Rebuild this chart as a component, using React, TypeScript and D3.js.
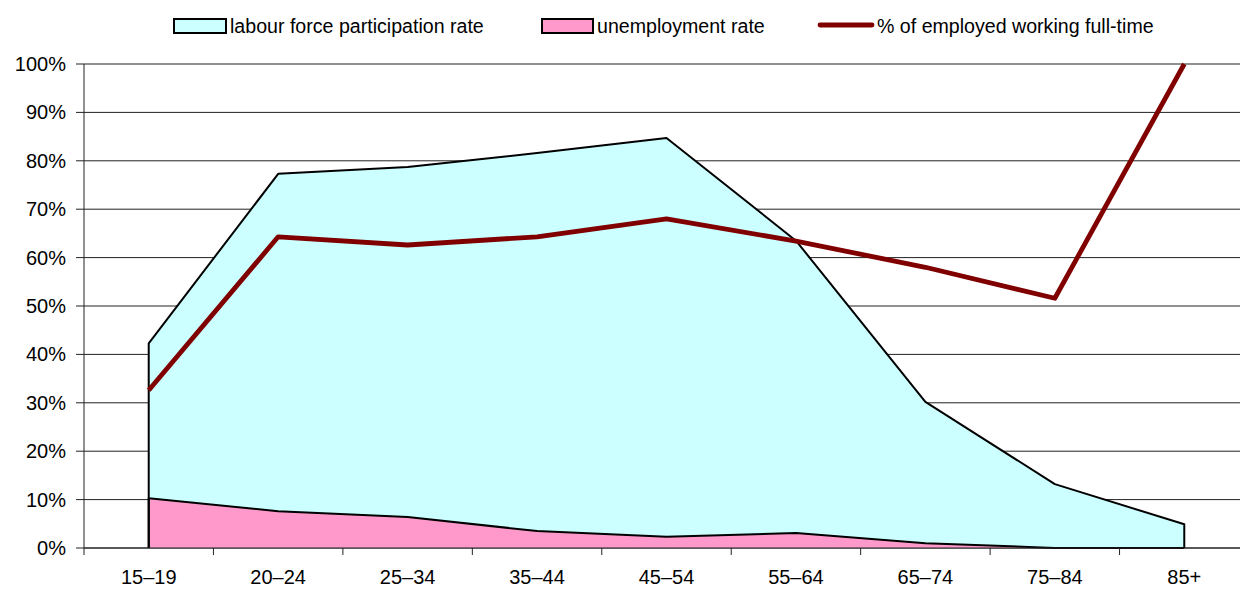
import React from "react";
import * as d3 from "d3";

const categories = ["15–19", "20–24", "25–34", "35–44", "45–54", "55–64", "65–74", "75–84", "85+"];
const participation = [42.3, 77.3, 78.7, 81.6, 84.7, 63.5, 30.2, 13.2, 4.9];
const unemployment = [10.3, 7.6, 6.4, 3.5, 2.3, 3.1, 1.0, 0, 0];
const fullTime = [32.6, 64.3, 62.6, 64.3, 68.0, 63.4, 58.0, 51.6, 100];
const yTicks = [0, 10, 20, 30, 40, 50, 60, 70, 80, 90, 100];

const W = 1240, H = 589;
const left = 84, right = 1249, top = 64, bottom = 548;
const font = "'Liberation Sans', Arial, Helvetica, sans-serif";

export default function App() {
  const x = d3.scaleBand<string>().domain(categories).range([left, right]).padding(0);
  const y = d3.scaleLinear().domain([0, 100]).range([bottom, top]);
  const cx = (c: string) => (x(c) as number) + x.bandwidth() / 2;

  const area = d3.area<number>().x((_, i) => cx(categories[i])).y0(y(0)).y1((d) => y(d));
  const line = d3.line<number>().x((_, i) => cx(categories[i])).y((d) => y(d));

  const partPath = area(participation) as string;
  const partOutline = `M${cx(categories[0])},${y(0)}L` + (line(participation) as string).slice(1) + `L${cx(categories[categories.length - 1])},${y(0)}`;
  const unPath = area(unemployment) as string;
  const unOutline = `M${cx(categories[0])},${y(0)}L` + (line(unemployment) as string).slice(1);

  return (
    <svg width={W} height={H} style={{ position: "absolute", left: 0, top: 0 }} fontFamily={font}>
      <rect width={W} height={H} fill="#fff" />
      {yTicks.map((t) => (
        <g key={t}>
          <line x1={left} x2={W} y1={y(t)} y2={y(t)} stroke="#222" strokeWidth={1} />
          <line x1={76} x2={left} y1={y(t)} y2={y(t)} stroke="#222" strokeWidth={1} />
          <text x={66} y={y(t) + 7} fontSize={20} textAnchor="end" fill="#000">{t}%</text>
        </g>
      ))}
      <path d={partPath} fill="#CCFFFF" />
      <path d={unPath} fill="#FF99CC" />
      <path d={partOutline} fill="none" stroke="#000" strokeWidth={2} strokeLinejoin="round" />
      <path d={unOutline} fill="none" stroke="#000" strokeWidth={2} strokeLinejoin="round" />
      <path d={line(fullTime) as string} fill="none" stroke="#800000" strokeWidth={4.8} strokeLinejoin="round" />
      <line x1={left} x2={left} y1={top} y2={bottom} stroke="#222" strokeWidth={1} />
      <line x1={left} x2={W} y1={bottom} y2={bottom} stroke="#222" strokeWidth={1.2} />
      {categories.map((c) => (
        <g key={c}>
          <line x1={(x(c) as number)} x2={(x(c) as number)} y1={bottom} y2={bottom + 7} stroke="#222" />
          <text x={cx(c)} y={584} fontSize={20} textAnchor="middle" fill="#000">{c}</text>
        </g>
      ))}
      <g fontSize={19.6} fill="#000">
        <rect x={174} y={19} width={52} height={14} fill="#CCFFFF" stroke="#000" strokeWidth={2} />
        <text x={230} y={33}>labour force participation rate</text>
        <rect x={542} y={19} width={51} height={14} fill="#FF99CC" stroke="#000" strokeWidth={2} />
        <text x={597} y={33}>unemployment rate</text>
        <line x1={820} x2={872} y1={25} y2={25} stroke="#800000" strokeWidth={4.8} strokeLinecap="round" />
        <text x={877} y={33}>% of employed working full-time</text>
      </g>
    </svg>
  );
}
